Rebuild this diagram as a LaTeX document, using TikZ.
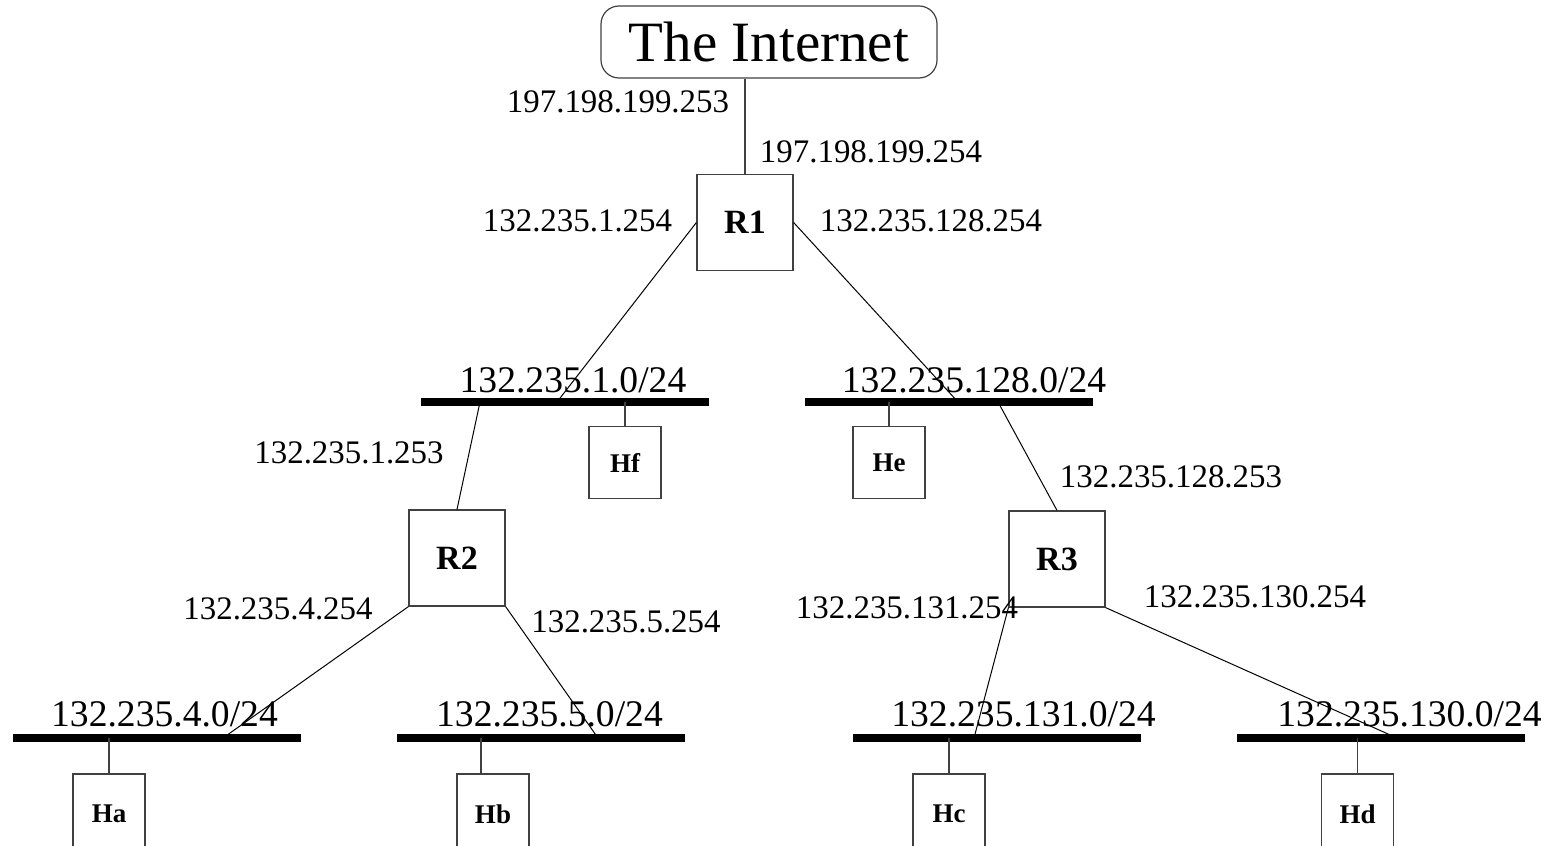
\documentclass[tikz,border=0pt]{standalone}
\usepackage{fontspec}
\setmainfont{Liberation Serif}
\begin{document}
\begin{tikzpicture}[x=0.5pt,y=-0.5pt]
\tikzset{
  ip/.style={anchor=base, inner sep=0pt, font=\fontsize{16.45}{18}\selectfont},
  net/.style={anchor=base, inner sep=0pt, font=\fontsize{18.8}{20}\selectfont},
  cloud/.style={draw=black!75, line width=0.6pt, rounded corners=9pt,
    minimum width=168pt, minimum height=36pt, inner sep=0pt,
    font=\fontsize{28.5}{30}\selectfont},
  router/.style={draw=black!75, line width=0.6pt, minimum width=48pt,
    minimum height=48pt, inner sep=0pt, font=\fontsize{17}{19}\selectfont\bfseries},
  host/.style={draw=black!75, line width=0.6pt, minimum width=36pt,
    minimum height=36pt, inner sep=0pt, font=\fontsize{13.5}{15}\selectfont\bfseries},
  segment/.style={fill=black, minimum width=144pt, minimum height=3.7pt, inner sep=0pt},
  link/.style={draw=black, line width=0.5pt},
  stub/.style={draw=black!75, line width=0.6pt},
}
\useasboundingbox (0,0) rectangle (1550,845);
\clip (0,0) rectangle (1550,845);

% Internet, routers and hosts
\node[cloud] (inet) at (769,42) {The Internet};
\node[router] (R1) at (745,222.5) {R1};
\node[router] (R2) at (457,558) {R2};
\node[router] (R3) at (1057,559) {R3};
\node[host] (Hf) at (625,462.5) {Hf};
\node[host] (He) at (889,462.5) {He};
% the lower row of hosts runs off the bottom edge
\node[host, minimum height=40pt] (Ha) at (109,814) {Ha};
\node[host, minimum height=40pt] (Hb) at (493,814) {Hb};
\node[host, minimum height=40pt] (Hc) at (949,814) {Hc};
\node[host, minimum height=40pt] (Hd) at (1357.5,814) {Hd};

% attachment points on the Ethernet segments
\coordinate (s1a) at (557,402);
\coordinate (s1b) at (480,402);
\coordinate (s2a) at (958,402);
\coordinate (s2b) at (998,402);
\coordinate (s4a) at (223,738);
\coordinate (s5a) at (598,738);
\coordinate (s6a) at (974,738);
\coordinate (s7a) at (1397,738);

% router links
\draw[stub] (R1.north |- inet.south) -- (R1.north);
\draw[link] (R1.west) -- (s1a);
\draw[link] (R1.east) -- (s2a);
\draw[link] (s1b) -- (R2.north);
\draw[link] (s2b) -- (R3.north);
\draw[link] (R2.south west) -- (s4a);
\draw[link] (R2.south east) -- (s5a);
\draw[link] (R3.south west) -- (s6a);
\draw[link] (R3.south east) -- (s7a);

% Ethernet segments
\node[segment] (net1) at (565,402) {};
\node[segment] (net128) at (949,402) {};
\node[segment] (net4) at (157,738) {};
\node[segment] (net5) at (541,738) {};
\node[segment] (net131) at (997,738) {};
\node[segment] (net130) at (1381,738) {};

% host drops
\draw[stub] (Hf.north |- net1.center) -- (Hf.north);
\draw[stub] (He.north |- net128.center) -- (He.north);
\draw[stub] (Ha.north |- net4.center) -- (Ha.north);
\draw[stub] ([xshift=-6pt]Hb.north |- net5.center) -- ([xshift=-6pt]Hb.north);
\draw[stub] (Hc.north |- net131.center) -- (Hc.north);
\draw[stub] (Hd.north |- net130.center) -- (Hd.north);

% network labels
\node[net] (l1) at (573,392) {132.235.1.0/24};
\node[net] (l128) at (974,392) {132.235.128.0/24};
\node[net] (l4) at (164.5,726) {132.235.4.0/24};
\node[net] (l5) at (549.5,726) {132.235.5.0/24};
\node[net] (l131) at (1023.5,726) {132.235.131.0/24};
\node[net] (l130) at (1409.5,726) {132.235.130.0/24};

% interface addresses
\node[ip] (a1) at (618,113) {197.198.199.253};
\node[ip] (a2) at (871,163) {197.198.199.254};
\node[ip] (a3) at (577.5,231) {132.235.1.254};
\node[ip] (a4) at (931,231) {132.235.128.254};
\node[ip] (a5) at (349,463) {132.235.1.253};
\node[ip] (a6) at (1171,487) {132.235.128.253};
\node[ip] (a7) at (278,619) {132.235.4.254};
\node[ip] (a8) at (626,632) {132.235.5.254};
\node[ip] (a9) at (907,618) {132.235.131.254};
\node[ip] (a10) at (1255,607) {132.235.130.254};
\end{tikzpicture}
\end{document}
